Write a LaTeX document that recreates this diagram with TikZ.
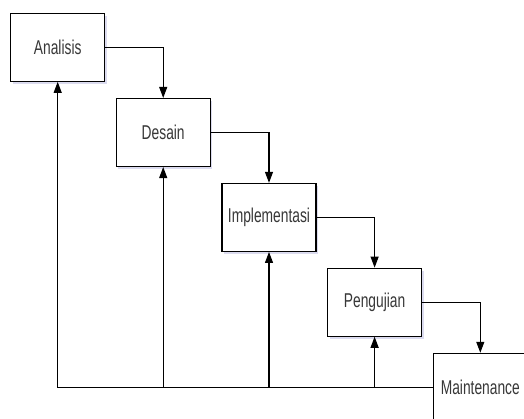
\documentclass[tikz,border=0pt]{standalone}
\usepackage{fontspec}
\newfontfamily\boxfont[FakeStretch=0.69]{Liberation Sans}
\usetikzlibrary{arrows.meta,shadows}
\tikzset{
  stage/.style={draw=black, line width=1.1pt, fill=white, minimum width=94pt, minimum height=68pt, inner sep=0pt,
    text=black!78, font=\boxfont\fontsize{20}{20}\selectfont,
    drop shadow={shadow xshift=2pt, shadow yshift=-3pt, fill=blue!40!gray, opacity=0.2}},
  flow/.style={draw=black, line width=1.1pt, -{Triangle[width=8pt,length=11pt]}}
}
\begin{document}
\begin{tikzpicture}[x=1pt,y=-1pt]
\clip (0,0) rectangle (524,419);
\fill[white] (0,0) rectangle (524,419);
\node[stage] (a) at (57.7,47.3) {Analisis};
\node[stage] (d) at (163.2,132.5) {Desain};
\node[stage] (i) at (269,217.4) {Implementasi};
\node[stage] (p) at (374.6,302.2) {Pengujian};
\node[stage] (m) at (480.3,387.3) {Maintenance};
\draw[flow] (a.east) -| (d.north);
\draw[flow] (d.east) -| (i.north);
\draw[flow] (i.east) -| (p.north);
\draw[flow] (p.east) -| (m.north);
\draw[flow] (m.west) -| (a.south);
\draw[flow] (m.west -| d.south) -- (d.south);
\draw[flow] (m.west -| i.south) -- (i.south);
\draw[flow] (m.west -| p.south) -- (p.south);
\end{tikzpicture}
\end{document}
